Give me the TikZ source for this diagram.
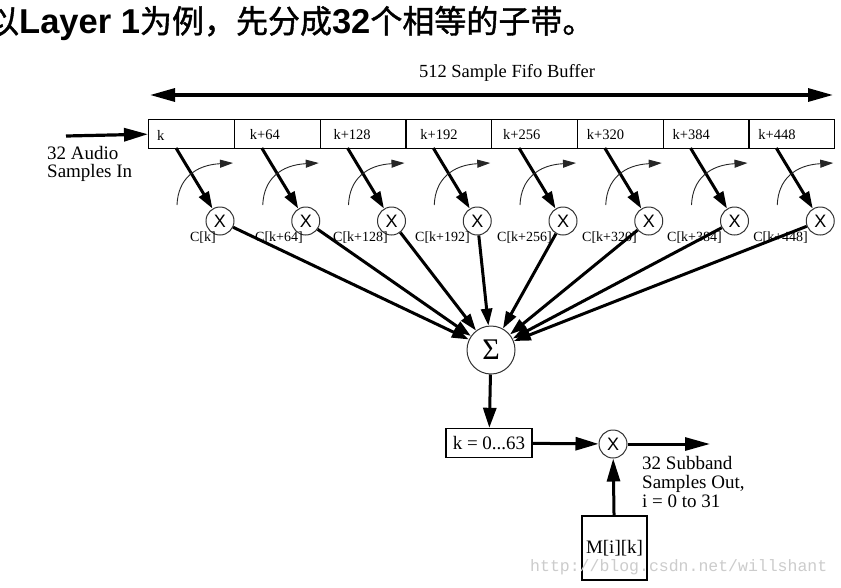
\documentclass[tikz,border=0pt]{standalone}
\usepackage{fontspec}
\setmainfont{Liberation Serif}
\newfontfamily\cjk{Noto Sans CJK SC}[FakeBold=1.2]
\newfontfamily\hsans{Liberation Sans}
\newfontfamily\wmono{Liberation Mono}
\usetikzlibrary{arrows.meta}
\tikzset{
  fat/.style={line width=3pt,-{Triangle[length=17pt,width=11pt]}},
  bigfat/.style={line width=3.2pt,-{Triangle[length=24pt,width=13pt]}},
  thinarr/.style={line width=0.9pt,black!85,-{Triangle[length=13pt,width=8pt]}},
  cellbox/.style={draw,line width=1.4pt,minimum width=85.75pt,minimum height=29pt,inner sep=0pt,anchor=north west},
  celltext/.style={anchor=west,inner sep=0pt,font=\fontsize{14.5}{14.5}\selectfont},
  ctext/.style={anchor=east,inner sep=0pt,font=\fontsize{14}{14}\selectfont},
  mult/.style={circle,draw=black!80,line width=1pt,minimum size=28pt,inner sep=0pt,font=\hsans\fontsize{18}{18}\selectfont},
  mainlab/.style={inner sep=0pt,font=\fontsize{19}{18.5}\selectfont,align=left},
  blockbox/.style={draw,line width=1.4pt,inner sep=0pt,font=\fontsize{19}{19}\selectfont}
}
\begin{document}
\begin{tikzpicture}[x=1pt,y=-1pt]
\useasboundingbox (0,0) rectangle (841,587);
\fill[white] (0,0) rectangle (841,587);
% title
\node[anchor=base west,inner sep=0pt] (title) at (-13,33)
 {{\cjk\fontsize{32}{32}\selectfont 以}{\hsans\bfseries\fontsize{34.5}{34.5}\selectfont Layer 1}{\cjk\fontsize{32}{32}\selectfont 为例，先分成}{\hsans\bfseries\fontsize{34.5}{34.5}\selectfont 32}{\cjk\fontsize{32}{32}\selectfont 个相等的子带。}};
% fifo arrow
\node[inner sep=0pt,font=\fontsize{18.5}{18.5}\selectfont] (fifolab) at (507,73) {512 Sample Fifo Buffer};
\coordinate (fl) at (150,95);
\coordinate (fr) at (833,95);
\draw[line width=3.2pt,{Triangle[length=25pt,width=13pt]}-{Triangle[length=25pt,width=13pt]}] (fl) -- (fr);
% buffer cells and multipliers
\foreach \i/\lab/\lx/\cl/\cx in {0/k/9/C[k]/216, 1/k+64/16/C[k+64]/303, 2/k+128/13.8/C[k+128]/388, 3/k+192/15/C[k+192]/470, 4/k+256/12/C[k+256]/552, 5/k+320/9.9/C[k+320]/637, 6/k+384/9.9/C[k+384]/722, 7/k+448/9.9/C[k+448]/808}{
  \pgfmathsetmacro{\xl}{148+85.75*\i}
  \node[cellbox] (c\i) at (\xl,119) {};
  \node[celltext] (cl\i) at (\xl+\lx,135) {\lab};
  \node[mult] (m\i) at (\xl+72,221) {X};
  \node[ctext] (ck\i) at (\cx,238) {\cl};
  \coordinate (d\i) at (\xl+28,148);
  \draw[fat] (d\i) -- (m\i);
  \coordinate (a\i) at (\xl+29,205);
  \coordinate (b\i) at (\xl+85,163);
  \draw[thinarr] (a\i) .. controls +(1,-26) and +(-38,2) .. (b\i);
}
% input
\coordinate (inl) at (66,136);
\draw[bigfat] (inl) -- (c0.west);
\node[mainlab,anchor=north west] (inlab) at (47,146) {32 Audio\\Samples In};
% sum
\node[circle,draw=black!80,line width=1pt,minimum size=48pt,inner sep=0pt,font=\fontsize{30}{30}\selectfont] (sig) at (491,350) {Σ};
\foreach \i in {0,...,7}{\draw[fat] (m\i) -- (sig);}
% k box
\node[blockbox,minimum width=86pt,minimum height=29pt] (kb) at (489,443) {k = 0...63};
\draw[line width=3pt,-{Triangle[length=20pt,width=13pt]}] (sig) -- (kb);
\node[mult] (x2) at (613,444) {X};
\draw[line width=3pt,-{Triangle[length=23pt,width=13pt]}] (kb) -- (x2);
\coordinate (out) at (710,444);
\draw[line width=3pt,-{Triangle[length=25pt,width=13pt]}] (x2) -- (out);
\node[mainlab,anchor=north west,font=\fontsize{19}{19}\selectfont] (outlab) at (642,456) {32 Subband\\Samples Out,\\i = 0 to 31};
\node[blockbox,minimum width=65pt,minimum height=64pt] (mb) at (614.5,548) {M[i][k]};
\draw[line width=3pt,-{Triangle[length=23pt,width=13pt]}] (mb) -- (x2);
% watermark
\node[anchor=west,inner sep=0pt,text=black!20,font=\wmono\fontsize{16.5}{16.5}\selectfont] (wm) at (530,567) {http://blog.csdn.net/willshant};
\end{tikzpicture}
\end{document}
